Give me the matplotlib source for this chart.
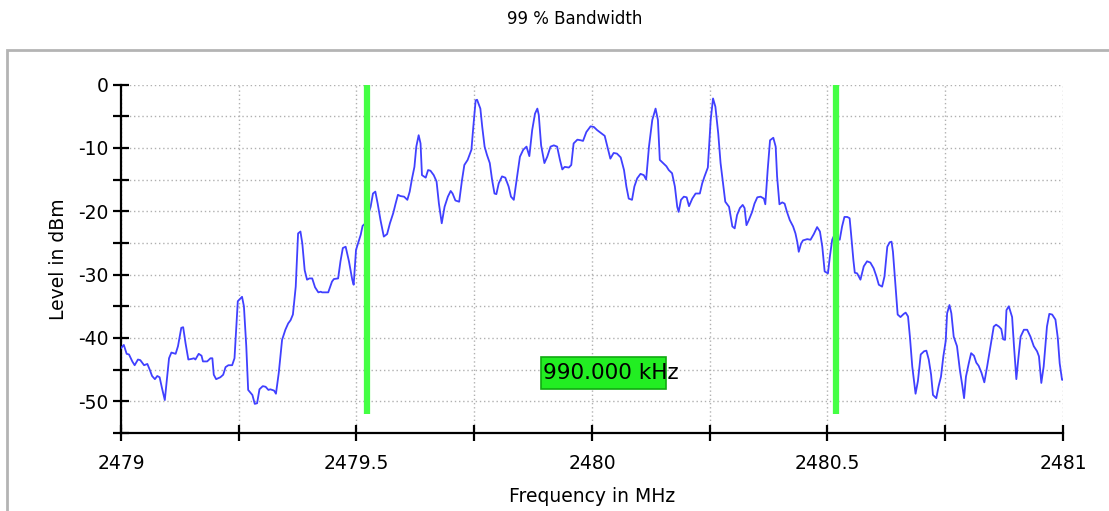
import matplotlib
matplotlib.use("Agg")
import matplotlib.pyplot as plt
from matplotlib.patches import Rectangle
from matplotlib.ticker import MultipleLocator

# spectrum trace (MHz, dBm)
freq_mhz = [
    2479.000, 2479.006, 2479.012, 2479.017, 2479.024, 2479.029, 2479.036, 2479.041,
    2479.049, 2479.056, 2479.061, 2479.066, 2479.072, 2479.077, 2479.082, 2479.087,
    2479.093, 2479.102, 2479.107, 2479.116, 2479.121, 2479.128, 2479.132, 2479.137,
    2479.143, 2479.150, 2479.155, 2479.158, 2479.165, 2479.171, 2479.174, 2479.183,
    2479.190, 2479.194, 2479.197, 2479.202, 2479.211, 2479.217, 2479.222, 2479.228,
    2479.236, 2479.241, 2479.248, 2479.257, 2479.261, 2479.266, 2479.270, 2479.279,
    2479.284, 2479.289, 2479.294, 2479.301, 2479.307, 2479.313, 2479.317, 2479.325,
    2479.329, 2479.335, 2479.342, 2479.349, 2479.355, 2479.360, 2479.365, 2479.371,
    2479.376, 2479.381, 2479.385, 2479.390, 2479.395, 2479.400, 2479.406, 2479.412,
    2479.419, 2479.424, 2479.427, 2479.440, 2479.448, 2479.452, 2479.461, 2479.466,
    2479.471, 2479.477, 2479.484, 2479.491, 2479.494, 2479.499, 2479.509, 2479.513,
    2479.519, 2479.530, 2479.535, 2479.540, 2479.545, 2479.551, 2479.558, 2479.565,
    2479.571, 2479.578, 2479.583, 2479.588, 2479.593, 2479.601, 2479.608, 2479.613,
    2479.618, 2479.623, 2479.627, 2479.632, 2479.636, 2479.639, 2479.647, 2479.652,
    2479.657, 2479.664, 2479.670, 2479.675, 2479.681, 2479.687, 2479.694, 2479.700,
    2479.704, 2479.710, 2479.718, 2479.724, 2479.729, 2479.736, 2479.744, 2479.748,
    2479.753, 2479.756, 2479.763, 2479.767, 2479.772, 2479.777, 2479.783, 2479.788,
    2479.793, 2479.797, 2479.802, 2479.809, 2479.816, 2479.823, 2479.828, 2479.834,
    2479.841, 2479.847, 2479.854, 2479.861, 2479.867, 2479.873, 2479.879, 2479.884,
    2479.887, 2479.892, 2479.899, 2479.905, 2479.912, 2479.919, 2479.926, 2479.932,
    2479.937, 2479.942, 2479.951, 2479.956, 2479.961, 2479.969, 2479.976, 2479.981,
    2479.988, 2479.997, 2480.004, 2480.011, 2480.020, 2480.027, 2480.032, 2480.039,
    2480.046, 2480.053, 2480.061, 2480.068, 2480.073, 2480.078, 2480.085, 2480.090,
    2480.096, 2480.103, 2480.110, 2480.115, 2480.121, 2480.128, 2480.135, 2480.140,
    2480.144, 2480.151, 2480.158, 2480.163, 2480.170, 2480.176, 2480.181, 2480.184,
    2480.189, 2480.195, 2480.201, 2480.206, 2480.213, 2480.220, 2480.229, 2480.234,
    2480.239, 2480.246, 2480.252, 2480.257, 2480.262, 2480.268, 2480.273, 2480.279,
    2480.283, 2480.291, 2480.298, 2480.303, 2480.308, 2480.314, 2480.320, 2480.324,
    2480.328, 2480.333, 2480.340, 2480.345, 2480.351, 2480.358, 2480.365, 2480.368,
    2480.373, 2480.378, 2480.385, 2480.390, 2480.393, 2480.398, 2480.404, 2480.409,
    2480.414, 2480.420, 2480.427, 2480.432, 2480.436, 2480.439, 2480.444, 2480.448,
    2480.457, 2480.464, 2480.471, 2480.478, 2480.484, 2480.489, 2480.494, 2480.501,
    2480.505, 2480.510, 2480.513, 2480.526, 2480.531, 2480.536, 2480.542, 2480.547,
    2480.550, 2480.555, 2480.558, 2480.563, 2480.570, 2480.577, 2480.584, 2480.591,
    2480.598, 2480.604, 2480.609, 2480.616, 2480.621, 2480.627, 2480.632, 2480.636,
    2480.639, 2480.644, 2480.649, 2480.655, 2480.662, 2480.666, 2480.671, 2480.675,
    2480.680, 2480.687, 2480.692, 2480.698, 2480.705, 2480.710, 2480.715, 2480.720,
    2480.724, 2480.731, 2480.736, 2480.741, 2480.746, 2480.751, 2480.754, 2480.759,
    2480.763, 2480.768, 2480.775, 2480.781, 2480.786, 2480.790, 2480.794, 2480.800,
    2480.805, 2480.811, 2480.816, 2480.821, 2480.827, 2480.833, 2480.839, 2480.846,
    2480.853, 2480.858, 2480.864, 2480.869, 2480.873, 2480.877, 2480.880, 2480.885,
    2480.892, 2480.896, 2480.901, 2480.905, 2480.910, 2480.917, 2480.924, 2480.931,
    2480.938, 2480.945, 2480.949, 2480.954, 2480.959, 2480.966, 2480.971, 2480.977,
    2480.984, 2480.989, 2480.993, 2480.998, 2481.000,
]
level_dbm = [
    -41.6, -41.1, -42.5, -42.6, -43.7, -44.3, -43.4, -43.5,
    -44.3, -44.1, -45.0, -46.0, -46.5, -46.0, -46.2, -47.9,
    -49.8, -43.2, -42.3, -42.5, -41.3, -38.4, -38.3, -40.8,
    -43.4, -43.3, -43.2, -43.4, -42.5, -42.8, -43.7, -43.7,
    -43.2, -43.2, -45.8, -46.5, -46.2, -45.8, -44.6, -44.3,
    -44.3, -43.2, -34.2, -33.5, -35.0, -41.3, -48.2, -49.0,
    -50.4, -50.3, -48.1, -47.6, -47.7, -48.2, -48.1, -48.3,
    -48.8, -45.5, -40.3, -38.7, -37.7, -37.2, -36.3, -31.9,
    -23.5, -23.2, -25.1, -29.3, -30.8, -30.6, -30.6, -32.0,
    -32.8, -32.7, -32.8, -32.8, -31.1, -30.7, -30.6, -27.9,
    -25.8, -25.6, -27.9, -30.8, -31.6, -26.1, -23.7, -22.3,
    -21.9, -19.3, -17.2, -16.9, -18.8, -21.4, -24.0, -23.6,
    -21.9, -20.3, -18.8, -17.4, -17.6, -17.7, -18.2, -16.9,
    -14.8, -13.0, -9.8, -8.0, -9.3, -14.3, -14.7, -13.5,
    -13.6, -14.3, -15.3, -18.8, -21.9, -19.3, -17.7, -16.8,
    -17.2, -18.3, -18.5, -15.1, -12.7, -11.9, -10.3, -6.7,
    -2.5, -2.4, -3.8, -6.7, -9.8, -11.1, -12.4, -15.1,
    -17.2, -17.3, -15.6, -14.5, -14.7, -16.1, -17.7, -18.2,
    -14.5, -11.4, -10.3, -9.8, -11.3, -7.2, -4.6, -3.8,
    -4.8, -9.6, -12.4, -11.4, -9.8, -9.6, -9.8, -11.9,
    -13.4, -13.0, -13.1, -12.7, -9.3, -8.7, -8.8, -8.9,
    -7.5, -6.6, -6.7, -7.2, -7.7, -8.1, -9.6, -11.7,
    -10.8, -10.9, -11.5, -13.5, -16.1, -18.0, -18.2, -16.1,
    -14.8, -14.1, -14.3, -15.0, -9.8, -5.6, -3.8, -5.6,
    -11.9, -12.4, -12.9, -13.5, -14.0, -16.1, -19.3, -20.1,
    -18.2, -17.7, -17.8, -19.2, -18.0, -17.2, -17.2, -15.6,
    -14.5, -13.1, -5.6, -2.2, -3.5, -7.7, -12.4, -16.1,
    -18.5, -19.3, -22.4, -22.7, -20.6, -19.5, -19.0, -19.5,
    -22.2, -21.4, -20.1, -18.8, -17.8, -17.7, -18.0, -18.9,
    -13.5, -8.8, -8.4, -9.8, -14.5, -18.9, -18.6, -18.8,
    -20.1, -21.4, -22.4, -23.5, -24.9, -26.4, -25.1, -24.6,
    -24.4, -24.5, -23.6, -22.5, -23.2, -25.6, -29.5, -29.8,
    -27.2, -24.5, -24.0, -24.5, -22.4, -20.9, -20.9, -21.1,
    -23.5, -27.7, -29.7, -29.8, -30.8, -28.7, -27.9, -28.1,
    -29.0, -30.3, -31.6, -31.9, -30.3, -25.6, -24.9, -24.8,
    -26.4, -31.4, -36.3, -36.7, -36.2, -36.0, -36.6, -39.8,
    -44.5, -48.8, -46.8, -42.6, -42.1, -42.0, -43.4, -45.8,
    -49.0, -49.5, -47.6, -46.1, -42.9, -40.5, -36.1, -34.8,
    -36.1, -39.8, -41.3, -45.0, -47.4, -49.5, -46.1, -44.0,
    -42.4, -42.8, -43.9, -44.4, -45.5, -47.0, -44.5, -41.3,
    -38.2, -37.9, -38.2, -38.6, -40.2, -40.3, -35.6, -35.0,
    -36.7, -41.3, -46.5, -43.4, -39.8, -38.7, -38.7, -39.8,
    -41.3, -42.1, -42.9, -47.1, -44.5, -38.2, -36.2, -36.3,
    -37.1, -40.0, -44.0, -46.6, -46.6,
]

# 99 % occupied bandwidth markers
band_edges_mhz = [2479.523, 2480.519]
bandwidth_label = "990.000 kHz"

plt.rcParams['font.family'] = ['DejaVu Sans']
plt.rcParams['axes.unicode_minus'] = False

fig = plt.figure(figsize=(11.09, 5.11), dpi=100)

# grey outer frame of the instrument window
fig.patches.append(Rectangle((7 / 1109, -0.02), 1.1, (511 - 50) / 511 + 0.02,
                             transform=fig.transFigure, fill=False,
                             edgecolor='#b4b4b4', linewidth=2.0))
fig.text(0.518, 0.962, "99 % Bandwidth", ha='center', va='center', fontsize=12)

ax = fig.add_axes([0.1091, 0.1526, 0.8494, 0.6820])
ax.plot(freq_mhz, level_dbm, color='#4040ff', linewidth=1.3, zorder=3)

for edge in band_edges_mhz:
    ax.plot([edge, edge], [0, -52], color='#44ff44', linewidth=4.5,
            solid_capstyle='butt', zorder=4)

# green readout box, narrower than its text as in the instrument display
ax.add_patch(Rectangle((2479.891, -48.0), 0.267, 5.0, facecolor='#22ee22',
                       edgecolor='#11aa11', linewidth=1.2, zorder=5))
ax.text(2479.895, -45.6, bandwidth_label, fontsize=15.5, va='center', ha='left',
        zorder=6)

ax.set_xlim(2479, 2481)
ax.set_ylim(-55, 0)
ax.xaxis.set_minor_locator(MultipleLocator(0.25))
ax.yaxis.set_major_locator(MultipleLocator(10))
ax.yaxis.set_minor_locator(MultipleLocator(5))
ax.set_xticks([2479, 2479.5, 2480, 2480.5, 2481])
ax.set_xticklabels(["2479", "2479.5", "2480", "2480.5", "2481"])

ax.grid(True, which='both', linestyle=(0, (1, 2)), color='#b0b0b0', linewidth=1.0)
ax.set_axisbelow(True)

for side in ('top', 'right'):
    ax.spines[side].set_visible(False)
for side in ('left', 'bottom'):
    ax.spines[side].set_linewidth(1.6)
    ax.spines[side].set_color('black')

ax.tick_params(which='both', direction='inout', width=1.6, colors='black',
               labelsize=13.5, length=12)
ax.tick_params(axis='x', pad=9)
ax.tick_params(axis='y', pad=3)

ax.set_xlabel("Frequency in MHz", fontsize=13.5, labelpad=10)
ax.set_ylabel("Level in dBm", fontsize=13.5, labelpad=7)

fig.savefig("out.png", dpi=100)
